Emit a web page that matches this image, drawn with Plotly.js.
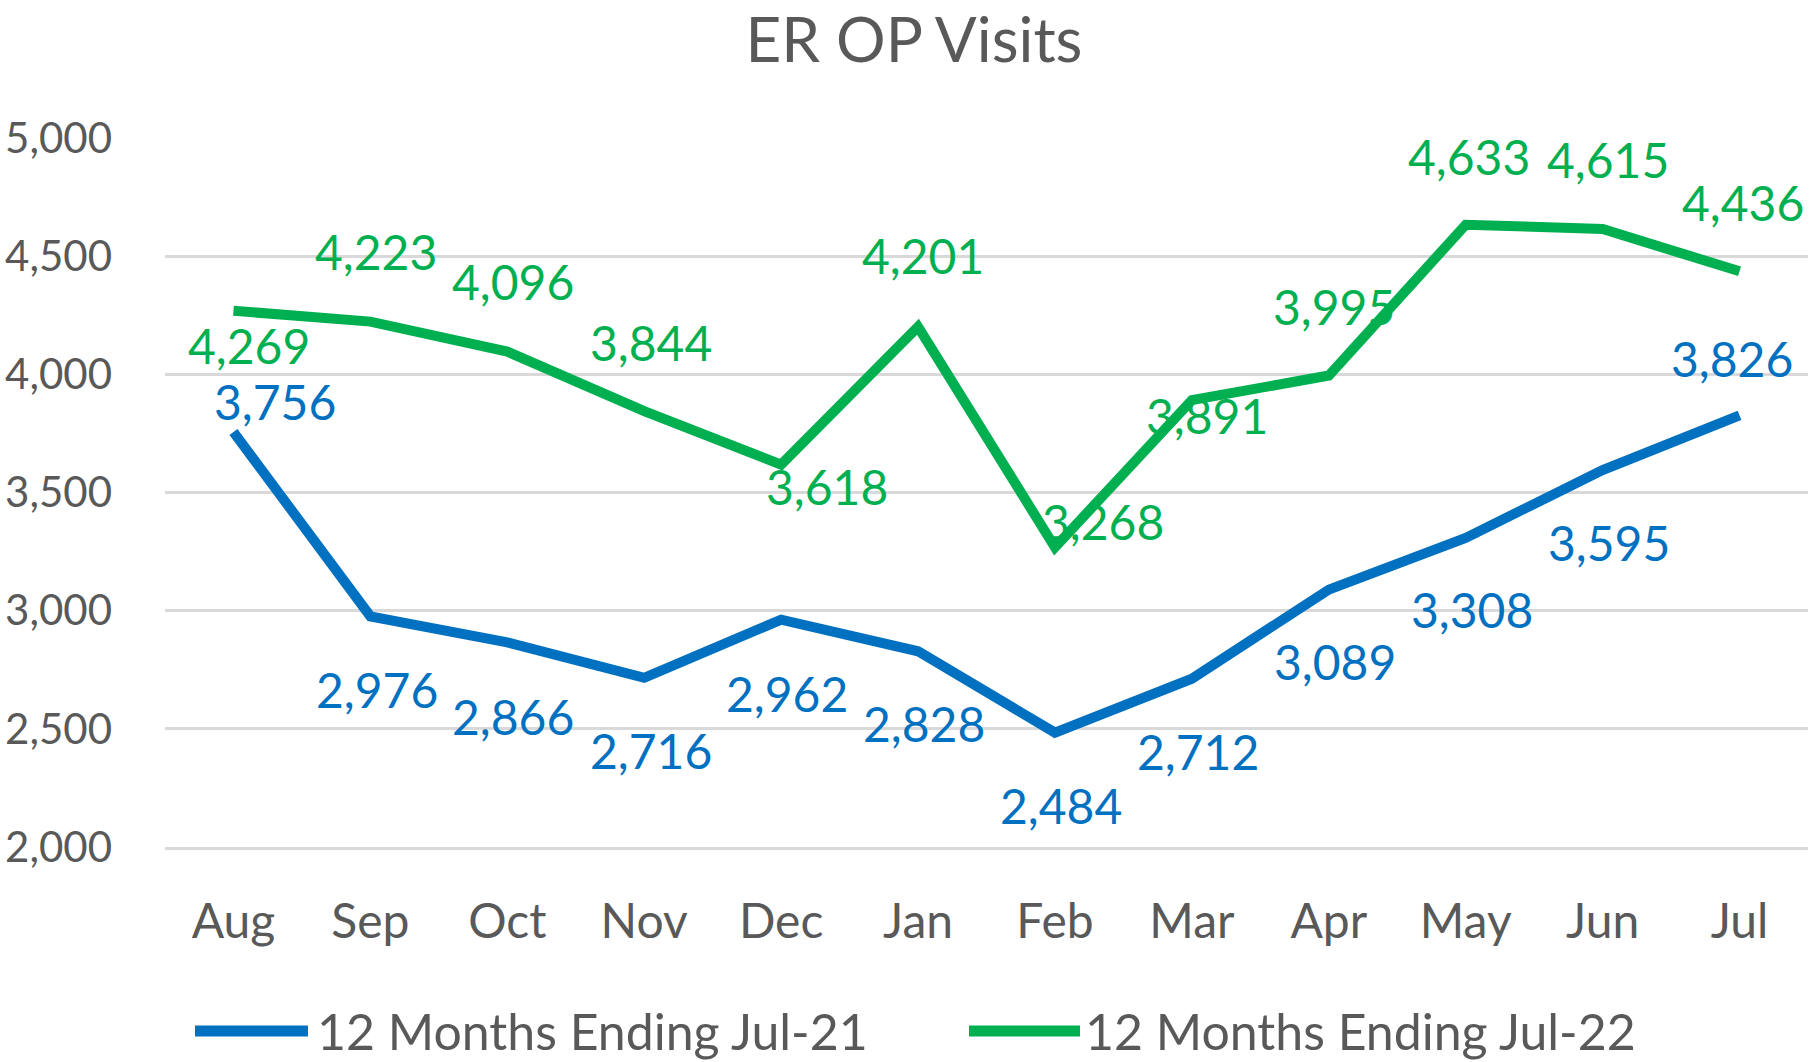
<!DOCTYPE html>
<html>
<head>
<meta charset="utf-8">
<script src="https://cdn.plot.ly/plotly-3.0.1.min.js"></script>
<style>
  html, body { margin: 0; padding: 0; background: #ffffff; }
  #chart { width: 1810px; height: 1062px; }
</style>
</head>
<body>
<div id="chart"></div>
<script>
// ---- Data ----
const chartTitle = 'ER OP Visits';
const months = ['Aug', 'Sep', 'Oct', 'Nov', 'Dec', 'Jan', 'Feb', 'Mar', 'Apr', 'May', 'Jun', 'Jul'];
const seriesNames = ['12 Months Ending Jul-21', '12 Months Ending Jul-22'];
const visitsJul21 = [3756, 2976, 2866, 2716, 2962, 2828, 2484, 2712, 3089, 3308, 3595, 3826];
const visitsJul22 = [4269, 4223, 4096, 3844, 3618, 4201, 3268, 3891, 3995, 4633, 4615, 4436];
const yTickValues = [2000, 2500, 3000, 3500, 4000, 4500, 5000];

// ---- Styling (kept separate from data) ----
const FONT = 'Lato, "Open Sans", "DejaVu Sans", sans-serif';
const TEXT_GREY = '#595959';
const GRID = '#d9d9d9';
const BLUE = '#0070C0';
const GREEN = '#00B050';
const seriesColors = [BLUE, GREEN];

// pixel offsets of each data label from its point [dx, dy(up)]
const labelShift21 = [[42, 31], [7, -73], [6, -74], [7, -73], [6, -74], [6, -72], [6, -73], [6, -73], [6, -72], [6, -72], [6, -72], [-8, 57]];
const labelShift22 = [[16, -35], [6, 70], [6, 70], [7, 69], [46, -22], [5, 71], [48, 26], [15, -15], [5, 69], [3, 68], [5, 69], [3, 69]];

const M = { l: 165, r: 2, t: 138, b: 215 };
const W = 1810, H = 1062;
const plotW = W - M.l - M.r, plotH = H - M.t - M.b;
const pxX = px => (px - M.l) / plotW;
const pxY = py => (H - M.b - py) / plotH;

const fmt = v => v.toLocaleString('en-US');

const seriesValues = [visitsJul21, visitsJul22];
const shifts = [labelShift21, labelShift22];

const traces = seriesValues.map((vals, i) => ({
  type: 'scatter',
  mode: 'lines',
  name: seriesNames[i],
  x: months,
  y: vals,
  line: { color: seriesColors[i], width: 10 },
  hoverinfo: 'x+y+name'
}));

const annotations = [];
seriesValues.forEach((vals, s) => {
  vals.forEach((v, i) => {
    annotations.push({
      x: months[i], y: v, xref: 'x', yref: 'y',
      text: fmt(v), showarrow: false,
      xanchor: 'center', yanchor: 'middle',
      xshift: shifts[s][i][0], yshift: shifts[s][i][1],
      font: { family: FONT, size: 48, color: seriesColors[s] }
    });
  });
});

// custom legend (long thick line keys like the original)
const legendItems = [
  { x0: 195, x1: 308, tx: 315 },
  { x0: 969, x1: 1080, tx: 1083 }
];
const legendY = 1031;
const shapes = [];
legendItems.forEach((it, i) => {
  shapes.push({
    type: 'line', xref: 'paper', yref: 'paper',
    x0: pxX(it.x0), x1: pxX(it.x1), y0: pxY(legendY), y1: pxY(legendY),
    line: { color: seriesColors[i], width: 11 }
  });
  annotations.push({
    xref: 'paper', yref: 'paper', x: pxX(it.tx), y: pxY(legendY),
    xanchor: 'left', yanchor: 'middle', showarrow: false,
    text: seriesNames[i],
    font: { family: FONT, size: 50, color: TEXT_GREY }
  });
});

const layout = {
  width: W, height: H,
  margin: M,
  paper_bgcolor: '#ffffff',
  plot_bgcolor: '#ffffff',
  showlegend: false,
  title: {
    text: chartTitle,
    font: { family: FONT, size: 62, color: TEXT_GREY },
    x: 914 / W, xanchor: 'center',
    y: 1 - 40 / H, yanchor: 'middle', xref: 'container', yref: 'container'
  },
  xaxis: {
    type: 'category',
    range: [-0.5, months.length - 0.5],
    showgrid: false, zeroline: false,
    showline: true, linecolor: GRID, linewidth: 3,
    ticks: '', ticklabelstandoff: 30,
    tickfont: { family: FONT, size: 48, color: TEXT_GREY },
    fixedrange: true
  },
  yaxis: {
    range: [2000, 5000],
    tickvals: yTickValues,
    ticktext: yTickValues.map(fmt),
    showgrid: true, gridcolor: GRID, gridwidth: 3,
    zeroline: false, showline: false,
    ticks: '', ticklabelstandoff: 52,
    tickfont: { family: FONT, size: 42, color: TEXT_GREY },
    fixedrange: true
  },
  annotations: annotations,
  shapes: shapes
};

Plotly.newPlot('chart', traces, layout, { displayModeBar: false, staticPlot: true });
</script>
</body>
</html>
